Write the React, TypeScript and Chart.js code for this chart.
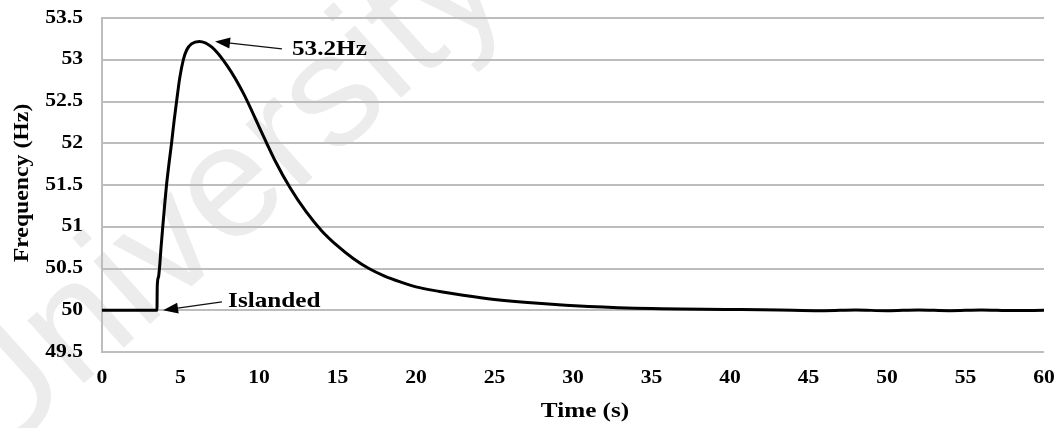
import { useEffect, useRef } from "react";
import { Chart, registerables } from "chart.js";

Chart.register(...registerables);

// ---- data ----
const timeS = [
  0, 1, 2, 3, 3.5, 3.52, 3.6, 3.66, 3.76, 3.87, 4.0, 4.11, 4.27, 4.43, 4.6, 4.75, 4.95, 5.18, 5.4,
  5.7, 6.2, 7.0, 8.0, 9.0, 10.0, 11.0, 12.0, 13.0, 14.0, 15.0, 16.0, 17.0, 18.0, 19.0, 20.0, 21.5,
  23.0, 25.0, 28.0, 31.0, 35.0, 40.0, 42.0, 44.0, 46.0, 48.0, 50.0, 52.0, 54.0, 56.0, 58.0, 60.0,
];
const freqHz = [
  50, 50, 50, 50, 50, 50.29, 50.4, 50.5, 50.75, 51.0, 51.28, 51.5, 51.76, 52.0, 52.28, 52.5, 52.78,
  53.0, 53.12, 53.19, 53.22, 53.15, 52.92, 52.6, 52.2, 51.8, 51.46, 51.18, 50.95, 50.77, 50.62,
  50.5, 50.41, 50.34, 50.28, 50.225, 50.18, 50.13, 50.08, 50.045, 50.02, 50.01, 50.006, 50.0,
  49.995, 50.003, 49.994, 50.004, 49.995, 50.003, 49.996, 50.0,
];

const xTickValues = [0, 5, 10, 15, 20, 25, 30, 35, 40, 45, 50, 55, 60];
const xTickLabels = ["0", "5", "10", "15", "20", "25", "30", "35", "40", "45", "50", "55", "60"];
const yTickValues = [49.5, 50, 50.5, 51, 51.5, 52, 52.5, 53, 53.5];
const yTickLabels = ["49.5", "50", "50.5", "51", "51.5", "52", "52.5", "53", "53.5"];

const xAxisTitle = "Time (s)";
const yAxisTitle = "Frequency (Hz)";
const watermarkText = "University";

// annotations, anchored in data units: [time, frequency]
const peakLabel = "53.2Hz";
const peakArrowTip = [7.2, 53.22];
const peakArrowTail = [11.46, 53.13];
const peakTextAt = [12.1, 53.06];

const islandLabel = "Islanded";
const islandArrowTip = [3.89, 50.0];
const islandArrowTail = [7.64, 50.1];
const islandTextAt = [8.03, 50.04];

const SERIF = '"Liberation Serif", "Times New Roman", serif';

function drawText(
  ctx: CanvasRenderingContext2D,
  text: string,
  x: number,
  y: number,
  size: number,
  align: CanvasTextAlign,
  baseline: CanvasTextBaseline,
  sx = 1.2,
  rot = 0
) {
  ctx.save();
  ctx.translate(x, y);
  if (rot) ctx.rotate(rot);
  ctx.scale(sx, 1);
  ctx.font = `bold ${size}px ${SERIF}`;
  ctx.textAlign = align;
  ctx.textBaseline = baseline;
  ctx.fillStyle = "#000";
  ctx.fillText(text, 0, 0);
  ctx.restore();
}

function drawArrow(ctx: CanvasRenderingContext2D, x1: number, y1: number, x2: number, y2: number) {
  // from tail (x1,y1) to tip (x2,y2)
  const ang = Math.atan2(y2 - y1, x2 - x1);
  const len = 15;
  const hw = 5.5;
  ctx.save();
  ctx.strokeStyle = "#111";
  ctx.fillStyle = "#000";
  ctx.lineWidth = 1.4;
  ctx.beginPath();
  ctx.moveTo(x1, y1);
  ctx.lineTo(x2 - Math.cos(ang) * (len - 2), y2 - Math.sin(ang) * (len - 2));
  ctx.stroke();
  ctx.beginPath();
  ctx.moveTo(x2, y2);
  ctx.lineTo(
    x2 - Math.cos(ang) * len + Math.sin(ang) * hw,
    y2 - Math.sin(ang) * len - Math.cos(ang) * hw
  );
  ctx.lineTo(
    x2 - Math.cos(ang) * len - Math.sin(ang) * hw,
    y2 - Math.sin(ang) * len + Math.cos(ang) * hw
  );
  ctx.closePath();
  ctx.fill();
  ctx.restore();
}

const watermarkPlugin = {
  id: "watermark",
  beforeDraw(chart: any) {
    const ctx: CanvasRenderingContext2D = chart.ctx;
    ctx.save();
    ctx.translate(-10, 468);
    ctx.rotate((-42 * Math.PI) / 180);
    ctx.font = `160px "Liberation Sans", Arial, sans-serif`;
    ctx.fillStyle = "#ececec";
    ctx.textAlign = "left";
    ctx.textBaseline = "alphabetic";
    ctx.fillText(watermarkText, 0, 0);
    ctx.restore();
  },
};

const labelsPlugin = {
  id: "customLabels",
  afterDraw(chart: any) {
    const ctx: CanvasRenderingContext2D = chart.ctx;
    const xs = chart.scales.x;
    const ys = chart.scales.y;
    const area = chart.chartArea;

    // y tick labels
    yTickValues.forEach((v, i) => {
      drawText(ctx, yTickLabels[i], area.left - 19, ys.getPixelForValue(v), 18, "right", "middle");
    });
    // x tick labels
    xTickValues.forEach((v, i) => {
      drawText(ctx, xTickLabels[i], xs.getPixelForValue(v), area.bottom + 26, 18, "center", "middle");
    });
    // axis titles
    drawText(ctx, xAxisTitle, (area.left + area.right) / 2 + 12, area.bottom + 60, 21, "center", "middle");
    drawText(ctx, yAxisTitle, 22, (area.top + area.bottom) / 2 - 2, 22, "center", "middle", 1.08, -Math.PI / 2);

    // annotations
    drawArrow(
      ctx,
      xs.getPixelForValue(peakArrowTail[0]),
      ys.getPixelForValue(peakArrowTail[1]),
      xs.getPixelForValue(peakArrowTip[0]),
      ys.getPixelForValue(peakArrowTip[1])
    );
    drawText(
      ctx,
      peakLabel,
      xs.getPixelForValue(peakTextAt[0]),
      ys.getPixelForValue(peakTextAt[1]),
      21,
      "left",
      "alphabetic"
    );
    drawArrow(
      ctx,
      xs.getPixelForValue(islandArrowTail[0]),
      ys.getPixelForValue(islandArrowTail[1]),
      xs.getPixelForValue(islandArrowTip[0]),
      ys.getPixelForValue(islandArrowTip[1])
    );
    drawText(
      ctx,
      islandLabel,
      xs.getPixelForValue(islandTextAt[0]),
      ys.getPixelForValue(islandTextAt[1]),
      21,
      "left",
      "alphabetic"
    );
  },
};

export default function App() {
  const canvasRef = useRef<HTMLCanvasElement | null>(null);

  useEffect(() => {
    document.body.style.margin = "0";
    const canvas = canvasRef.current;
    if (!canvas) return;
    const chart = new Chart(canvas, {
      type: "line",
      data: {
        datasets: [
          {
            data: timeS.map((t, i) => ({ x: t, y: freqHz[i] })),
            borderColor: "#000",
            borderWidth: 3,
            pointRadius: 0,
            fill: false,
            cubicInterpolationMode: "monotone",
          },
        ],
      },
      options: {
        animation: false,
        responsive: false,
        maintainAspectRatio: false,
        devicePixelRatio: 1,
        layout: { padding: { top: 18, right: 17, left: 0, bottom: 0 } },
        plugins: {
          legend: { display: false },
          tooltip: { enabled: false },
          title: { display: false },
        },
        scales: {
          x: {
            type: "linear",
            min: 0,
            max: 60,
            ticks: { display: false, stepSize: 5 },
            grid: { display: false },
            border: { display: false },
            afterFit: (s: any) => {
              s.height = 76;
            },
          },
          y: {
            type: "linear",
            min: 49.5,
            max: 53.5,
            ticks: { display: false, stepSize: 0.5 },
            grid: { color: "#bdbdbd", lineWidth: 2, drawTicks: false },
            border: { display: true, color: "#bdbdbd", width: 2 },
            afterFit: (s: any) => {
              s.width = 102;
            },
          },
        },
      },
      plugins: [watermarkPlugin, labelsPlugin],
    } as any);
    return () => chart.destroy();
  }, []);

  return (
    <div style={{ width: 1061, height: 428 }}>
      <canvas ref={canvasRef} width={1061} height={428} style={{ display: "block" }} />
    </div>
  );
}
